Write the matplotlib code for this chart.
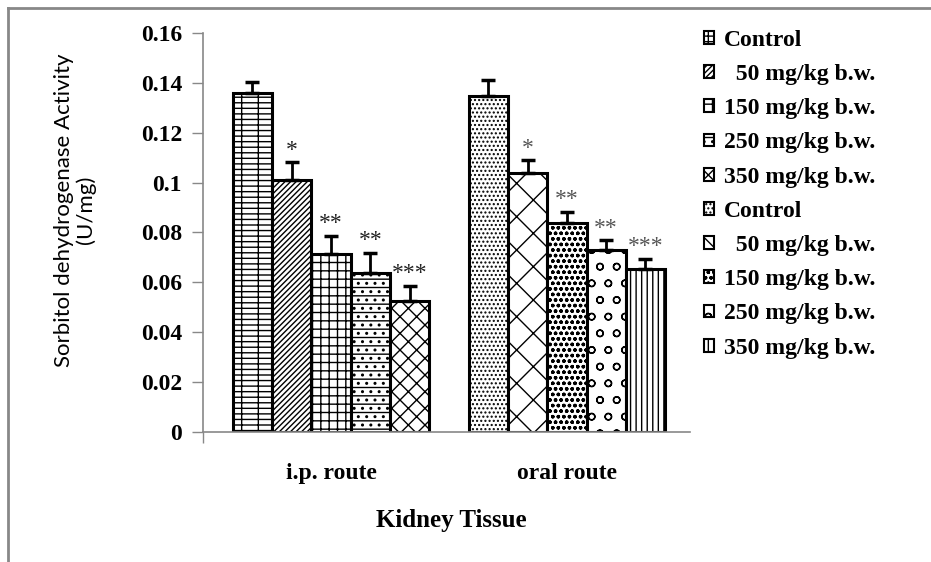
import matplotlib
matplotlib.use("Agg")
import matplotlib.pyplot as plt
from matplotlib.patches import Patch
from matplotlib.lines import Line2D

# ---------------------------------------------------------------------------
# Data
# ---------------------------------------------------------------------------
groups = ["i.p. route", "oral route"]
doses = ["Control", "  50 mg/kg b.w.", "150 mg/kg b.w.", "250 mg/kg b.w.", "350 mg/kg b.w."]

ip_mean = [0.136, 0.101, 0.0714, 0.0637, 0.0525]
ip_err = [0.0045, 0.0072, 0.0073, 0.0082, 0.0062]
ip_sig = ["", "*", "**", "**", "***"]

oral_mean = [0.1347, 0.104, 0.0837, 0.073, 0.0654]
oral_err = [0.0064, 0.0050, 0.0046, 0.0039, 0.0041]
oral_sig = ["", "*", "**", "**", "***"]

ip_hatch = ["---|", "//////", "++", "..--", "xx"]
oral_hatch = ["....", "x", "ooo", "o", "|||"]

yticks = [0, 0.02, 0.04, 0.06, 0.08, 0.1, 0.12, 0.14, 0.16]
ytick_labels = ["0", "0.02", "0.04", "0.06", "0.08", "0.1", "0.12", "0.14", "0.16"]

SERIF = "Liberation Serif"
plt.rcParams["hatch.linewidth"] = 1.0

fig = plt.figure(figsize=(9.31, 5.62), dpi=100)
ax = fig.add_axes([0.218, 0.2313, 0.523, 0.710])

ip_pos = [0, 1, 2, 3, 4]
oral_pos = [6, 7, 8, 9, 10]

handles = []
for pos, means, errs, hatches, sigs, star_col in [
    (ip_pos, ip_mean, ip_err, ip_hatch, ip_sig, "#222222"),
    (oral_pos, oral_mean, oral_err, oral_hatch, oral_sig, "#555555"),
]:
    for x, m, e, h, s, lab in zip(pos, means, errs, hatches, sigs, doses):
        ax.bar(x, m, width=1.0, color="white", edgecolor="black",
               linewidth=2.2, hatch=h, zorder=2)
        ax.errorbar(x, m, yerr=[[0], [e]], fmt="none", ecolor="black",
                    elinewidth=2, capsize=5, capthick=2.5, zorder=3)
        if s:
            ax.annotate(s, (x, m + e), xytext=(0, 1), textcoords="offset points",
                        ha="center", va="bottom", fontsize=17, family=SERIF,
                        color=star_col)
        handles.append(Patch(facecolor="white", edgecolor="black",
                             linewidth=1.5, hatch=h, label=lab))

ax.set_xlim(-1.26, 11.13)
ax.set_ylim(0, 0.16)
ax.set_yticks(yticks)
ax.set_yticklabels(ytick_labels, family=SERIF, fontweight="bold", fontsize=17)
ax.tick_params(axis="y", direction="out", length=8, width=1, color="#888888", pad=7)

ax.set_xticks([-1.26])
ax.set_xticklabels([""])
ax.tick_params(axis="x", which="major", direction="out", length=8, width=1, color="#888888")
ax.set_xticks([2, 8], minor=True)
ax.set_xticklabels(groups, minor=True, family=SERIF, fontweight="bold", fontsize=17)
ax.tick_params(axis="x", which="minor", length=0, pad=22)

for side in ["top", "right"]:
    ax.spines[side].set_visible(False)
for side in ["left", "bottom"]:
    ax.spines[side].set_color("#888888")
    ax.spines[side].set_linewidth(1.2)

fig.text(451 / 931, 1 - 520 / 562, "Kidney Tissue", ha="center", va="center",
         family=SERIF, fontweight="bold", fontsize=18)
fig.text(75 / 931, 1 - 210 / 562, "Sorbitol dehydrogenase Activity\n(U/mg)",
         rotation=90, ha="center", va="center", family="Lato", fontsize=16,
         linespacing=1.1)

leg = fig.legend(handles=handles, loc="upper left", bbox_to_anchor=(0.733, 0.985),
                 frameon=False, handlelength=0.45, handleheight=0.45,
                 handletextpad=0.4, labelspacing=0.56,
                 prop={"family": SERIF, "weight": "bold", "size": 17})

# grey frame around the figure (top and left edges visible)
fig.add_artist(Line2D([8 / 931, 8 / 931], [0, 1 - 8 / 562], transform=fig.transFigure,
                      color="#888888", linewidth=2))
fig.add_artist(Line2D([8 / 931, 1], [1 - 8 / 562, 1 - 8 / 562], transform=fig.transFigure,
                      color="#888888", linewidth=2))

fig.savefig("out.png", dpi=100)
